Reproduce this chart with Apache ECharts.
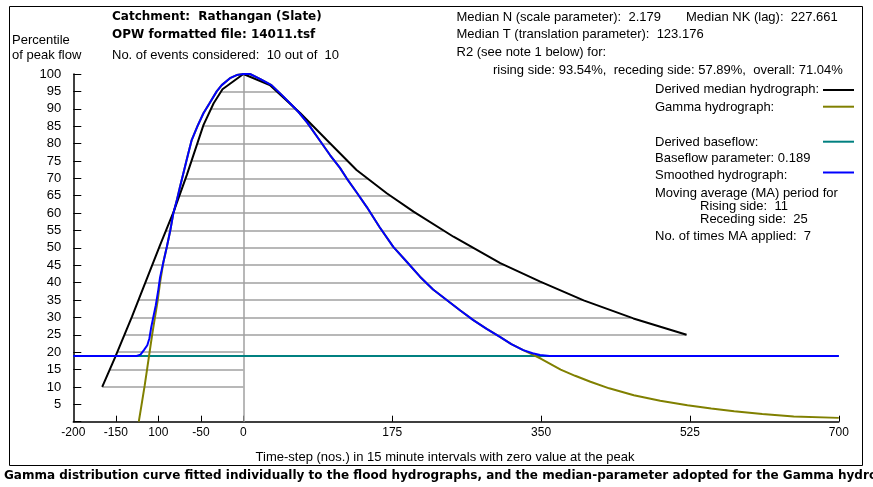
<!DOCTYPE html>
<html><head><meta charset="utf-8">
<script src="https://cdn.jsdelivr.net/npm/echarts@6/dist/echarts.min.js"></script>
<style>html,body{margin:0;padding:0;background:#fff}#c{width:873px;height:487px}</style>
</head><body><div id="c"></div>
<script>
// x tick positions and the labels the original program printed at them
const xTickValues = [-200, -150, -100, -50, 0, 175, 350, 525, 700];
const xTickLabels = ['-200', '-150', '100', '-50', '0', '175', '350', '525', '700'];

// Derived median hydrograph (time-step, percentile of peak)
const medianT = [-166, -151, -131, -98, -82, -66.5, -47, -35, -24.6, 0, 31, 67, 98, 133, 168.5, 200, 247, 302, 349, 400, 458.5, 521];
const medianV = [10, 18.4, 30.2, 50.8, 60.4, 71, 85.3, 91.6, 95.6, 100, 96.8, 88.7, 81, 72.4, 65.7, 60.4, 53.2, 45.6, 40.3, 34.9, 29.7, 25];

// Smoothed hydrograph
const smoothT = [-200, -125.5, -121, -117, -113, -110.5, -108.5, -106, -103, -100, -98, -94, -90, -86, -82.4, -78, -74.6, -70, -65, -60.8, -54, -47, -40, -31.4, -25.5, -15.8, -7.9, 0, 7.7, 20, 33, 45, 54.8, 65, 75, 90, 101.8, 113.5, 121.4, 133, 144.9, 160, 176.2, 192, 207.6, 223, 239, 255, 270.3, 286, 301.6, 315, 329, 340, 348.7, 360, 700];
const smoothV = [18.9, 18.9, 19.3, 20.6, 22, 24, 27, 30, 33.5, 38, 41.5, 46, 50.3, 55, 59.9, 64, 67.5, 72, 77, 81, 85, 88.7, 91.5, 95, 96.8, 98.8, 99.7, 100, 100, 98.5, 96.8, 94, 91.6, 89, 86, 80.8, 76.7, 73, 70, 66, 61.8, 56, 50.3, 46, 41.7, 38, 35, 32, 29.2, 26.7, 24.4, 22.3, 20.6, 19.7, 19.2, 18.9, 18.9];

// Gamma hydrograph
const gammaT = [-123, -120, -116, -113, -110, -107, -104, -101, -98, -94, -90, -86, -82.4, -78, -74.6, -70, -65, -60.8, -54, -47, -40, -31.4, -25.5, -15.8, -7.9, 0, 7.7, 20, 33, 45, 54.8, 65, 75, 90, 101.8, 113.5, 121.4, 133, 144.9, 160, 176.2, 192, 207.6, 223, 239, 255, 270.3, 286, 301.6, 315, 329, 340, 350, 373, 390, 408, 430, 459, 490, 522, 550, 577, 610, 647, 700];
const gammaV = [0, 4.5, 10.5, 15.5, 20.5, 25.5, 30, 34.5, 40, 46, 50.3, 55, 59.9, 64, 67.5, 72, 77, 81, 85, 88.7, 91.5, 95, 96.8, 98.8, 99.7, 100, 100, 98.5, 96.8, 94, 91.6, 89, 86, 80.8, 76.7, 73, 70, 66, 61.8, 56, 50.3, 46, 41.7, 38, 35, 32, 29.2, 26.7, 24.4, 22.3, 20.6, 19.3, 18.1, 15, 13.2, 11.5, 9.6, 7.6, 6, 4.7, 3.8, 3.0, 2.2, 1.5, 1.1];

// Derived baseflow (percentile of peak)
const baseflowT = [-200, 700];
const baseflowV = [18.9, 18.9];

// Percentile levels at which hydrograph widths are drawn
const widthLevels = [10, 15, 20, 25, 30, 35, 40, 45, 50, 55, 60, 65, 70, 75, 80, 85, 90, 95];

const pairs = (ts, vs) => ts.map((t, i) => [t, vs[i]]);

function crossing(ts, vs, from, to, level) {
  const step = from < to ? 1 : -1;
  for (let i = from; i !== to; i += step) {
    const a = vs[i], b = vs[i + step];
    if ((a - level) * (b - level) <= 0 && a !== b) {
      return ts[i] + (level - a) / (b - a) * (ts[i + step] - ts[i]);
    }
  }
  return null;
}
const peakIdx = medianV.indexOf(Math.max(...medianV));
const widthData = widthLevels.map(lv => {
  let l = crossing(medianT, medianV, 0, peakIdx, lv);
  if (l === null) l = medianT[0];
  let r = crossing(medianT, medianV, peakIdx, medianT.length - 1, lv);
  if (r === null) r = 0;
  return { coords: [[l, lv], [r, lv]] };
});
widthData.push({ coords: [[0, 0], [0, 100]] });

const FN = '13px "Liberation Sans", Arial, sans-serif';
const FB = 'bold 12px "DejaVu Sans", sans-serif';
function txt(text, x, y, font, align) {
  return { type: 'text', x: x, y: y, silent: true,
    style: { text: text, font: font || FN, fill: '#000', align: align || 'left', verticalAlign: 'middle' } };
}
function seg(x1, x2, y, color) {
  return { type: 'line', silent: true, shape: { x1: x1, y1: y, x2: x2, y2: y }, style: { stroke: color, lineWidth: 2 } };
}

const chart = echarts.init(document.getElementById('c'), null, { renderer: 'canvas' });
chart.setOption({
  animation: false,
  backgroundColor: '#fff',
  grid: { left: 73.3, top: 74, width: 765.5, height: 347.7, containLabel: false, outerBoundsMode: 'none' },
  xAxis: {
    type: 'value', min: -200, max: 700,
    splitLine: { show: false },
    axisLine: { onZero: false, lineStyle: { color: '#000', width: 1.5 } },
    axisTick: { inside: true, length: 6, customValues: xTickValues.slice(1), lineStyle: { color: '#000', width: 1 } },
    axisLabel: {
      customValues: xTickValues, color: '#000', font: FN, margin: 5,
      formatter: v => { const i = xTickValues.indexOf(v); return i >= 0 ? xTickLabels[i] : ''; }
    }
  },
  yAxis: {
    type: 'value', min: 0, max: 100, interval: 5,
    splitLine: { show: false },
    axisLine: { show: true, onZero: false, lineStyle: { color: '#000', width: 1.5 } },
    axisTick: { show: true, inside: true, length: 8, lineStyle: { color: '#000', width: 1 } },
    axisLabel: { color: '#000', fontFamily: '"Liberation Sans", Arial, sans-serif', fontSize: 13, margin: 12,
      formatter: v => (v === 0 ? '' : String(v)) }
  },
  series: [
    { type: 'lines', coordinateSystem: 'cartesian2d', data: widthData, silent: true, z: 1,
      lineStyle: { color: '#a0a0a0', width: 1.5, opacity: 1 } },
    { type: 'line', name: 'Derived baseflow', data: pairs(baseflowT, baseflowV), showSymbol: false, z: 2,
      lineStyle: { color: '#008080', width: 2 } },
    { type: 'line', name: 'Gamma hydrograph', data: pairs(gammaT, gammaV), showSymbol: false, z: 3,
      lineStyle: { color: '#808000', width: 2 } },
    { type: 'line', name: 'Derived median hydrograph', data: pairs(medianT, medianV), showSymbol: false, z: 4,
      lineStyle: { color: '#000', width: 2 } },
    { type: 'line', name: 'Smoothed hydrograph', data: pairs(smoothT, smoothV), showSymbol: false, z: 5,
      lineStyle: { color: '#0000ff', width: 2 } }
  ],
  graphic: [
    { type: 'rect', silent: true, shape: { x: 9.5, y: 6.5, width: 853, height: 459 }, style: { fill: null, stroke: '#000', lineWidth: 1 } },
    txt('Percentile', 12, 40.5),
    txt('of peak flow', 12, 55.5),
    txt('Catchment:  Rathangan (Slate)', 112, 17, FB),
    txt('OPW formatted file: 14011.tsf', 112, 35, FB),
    txt('No. of events considered:  10 out of  10', 112, 55),
    txt('Median N (scale parameter):  2.179', 456.5, 17),
    txt('Median NK (lag):  227.661', 686, 17),
    txt('Median T (translation parameter):  123.176', 456.5, 34.5),
    txt('R2 (see note 1 below) for:', 456.5, 52),
    txt('rising side: 93.54%,  receding side: 57.89%,  overall: 71.04%', 493, 70),
    txt('Derived median hydrograph:', 655, 89),
    txt('Gamma hydrograph:', 655, 107),
    txt('Derived baseflow:', 655, 142),
    txt('Baseflow parameter: 0.189', 655, 158.5),
    txt('Smoothed hydrograph:', 655, 175),
    txt('Moving average (MA) period for', 655, 193),
    txt('Rising side:  11', 700, 206),
    txt('Receding side:  25', 700, 219.5),
    txt('No. of times MA applied:  7', 655, 236.5),
    seg(823, 854, 90, '#000'),
    seg(823, 854, 106.7, '#808000'),
    seg(823, 854, 141.7, '#008080'),
    seg(823, 854, 172.5, '#0000ff'),
    txt('Time-step (nos.) in 15 minute intervals with zero value at the peak', 445, 457, FN, 'center'),
    txt('Gamma distribution curve fitted individually to the flood hydrographs, and the median-parameter adopted for the Gamma hydrograph', 4, 476, FB)
  ]
});
</script>
</body></html>
